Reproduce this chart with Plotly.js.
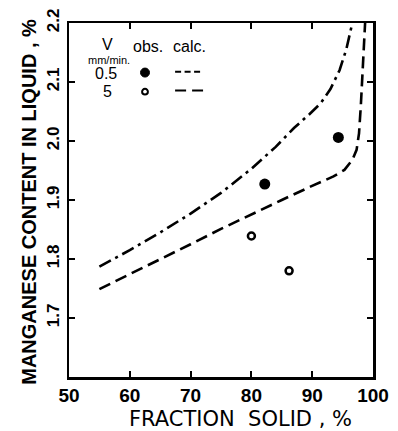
<!DOCTYPE html>
<html><head><meta charset="utf-8">
<script src="https://cdn.plot.ly/plotly-3.0.1.min.js"></script>
<style>body{margin:0;background:#fff}#c{width:398px;height:431px}</style>
</head><body><div id="c"></div>
<script>
// observed points
const obsSlowX = [82.2, 94.3];
const obsSlowY = [1.927, 2.006];
const obsFastX = [80.0, 86.2];
const obsFastY = [1.839, 1.780];
// calculated curves
const calcUpperX = [55.0, 60, 65, 70, 75, 80, 84, 87, 89.5, 91.4, 93, 94.5, 95.6, 96.4, 96.6];
const calcUpperY = [1.787, 1.815, 1.845, 1.877, 1.912, 1.953, 1.99, 2.022, 2.045, 2.064, 2.088, 2.12, 2.155, 2.19, 2.2];
const calcLowerX = [55.0, 60, 65, 70, 75, 80, 85, 89.8, 93.5, 95.3, 96.6, 97.3, 97.7, 98.0, 98.3, 98.6, 98.7];
const calcLowerY = [1.749, 1.774, 1.800, 1.825, 1.851, 1.876, 1.900, 1.923, 1.940, 1.951, 1.968, 1.985, 2.013, 2.06, 2.126, 2.194, 2.2];
const xTicks = [50, 60, 70, 80, 90, 100];
const yTicks = [1.7, 1.8, 1.9, 2.0, 2.1, 2.2];

const F = "Liberation Sans, Arial, sans-serif";
const FD = "DejaVu Sans, sans-serif";
const traces = [
  {x: calcUpperX, y: calcUpperY, mode: 'lines', line: {color: '#000', width: 2.6, dash: '13px,5px,3px,5px'}},
  {x: calcLowerX, y: calcLowerY, mode: 'lines', line: {color: '#000', width: 2.6, dash: '12px,6px'}},
  {x: obsSlowX, y: obsSlowY, mode: 'markers', marker: {color: '#000', size: 11, symbol: 'circle', line: {width: 0}}},
  {x: obsFastX, y: obsFastY, mode: 'markers', marker: {color: '#fff', size: 7, symbol: 'circle', line: {color: '#000', width: 2.5}}}
];
const ax = {
  showgrid: false, zeroline: false, showline: true, linecolor: '#000', linewidth: 2.5,
  mirror: 'ticks', ticks: 'inside', ticklen: 6, tickwidth: 2, tickcolor: '#000'
};
function leg(text, x, y, size) {
  return {text: text, xref: 'paper', yref: 'paper', x: x, y: y, showarrow: false,
    xanchor: 'center', yanchor: 'middle', borderpad: 0, font: {size: size, family: F}};
}
const layout = {
  width: 398, height: 431, showlegend: false,
  paper_bgcolor: '#fff', plot_bgcolor: '#fff',
  margin: {l: 69, r: 25, t: 23, b: 54},
  font: {family: F, color: '#000'},
  xaxis: Object.assign({}, ax, {range: [50, 100], tickvals: xTicks, ticktext: xTicks.map(String),
    tickfont: {size: 19, family: F, weight: 'bold'}}),
  yaxis: Object.assign({}, ax, {range: [1.6, 2.2], tickvals: yTicks, ticktext: yTicks.map(v => v.toFixed(1)),
    tickangle: -90, ticklabelstandoff: 1, tickfont: {size: 17, family: F, weight: 'bold'}}),
  annotations: [
    {text: 'FRACTION  SOLID , %', xref: 'paper', yref: 'paper', x: 0.5625, y: 0, yshift: -42, showarrow: false,
     font: {size: 21, family: FD}, xanchor: 'center', yanchor: 'middle', borderpad: 0},
    {text: 'MANGANESE CONTENT IN LIQUID , %', xref: 'paper', yref: 'paper', x: 0, xshift: -40, y: 0.495, showarrow: false,
     textangle: -90, font: {size: 20, family: F, weight: 'bold'}, xanchor: 'center', yanchor: 'middle', borderpad: 0},
    leg('V', 0.128, 0.938, 16),
    leg('mm/min.', 0.132, 0.896, 11),
    leg('obs.', 0.26, 0.935, 16),
    leg('calc.', 0.398, 0.935, 16),
    leg('0.5', 0.123, 0.856, 16),
    leg('5', 0.127, 0.806, 16)
  ],
  shapes: [
    {type: 'circle', xref: 'paper', yref: 'paper', x0: 0.2352, x1: 0.2648, y0: 0.8473, y1: 0.8727, fillcolor: '#000', line: {color: '#000', width: 1}},
    {type: 'circle', xref: 'paper', yref: 'paper', x0: 0.2405, x1: 0.2595, y0: 0.798, y1: 0.814, fillcolor: '#fff', line: {color: '#000', width: 2}},
    {type: 'line', xref: 'paper', yref: 'paper', x0: 0.349, x1: 0.441, y0: 0.862, y1: 0.862, line: {color: '#000', width: 2, dash: '6px,3.5px'}},
    {type: 'line', xref: 'paper', yref: 'paper', x0: 0.349, x1: 0.441, y0: 0.809, y1: 0.809, line: {color: '#000', width: 2, dash: '11px,6px'}}
  ]
};
Plotly.newPlot('c', traces, layout, {displayModeBar: false, staticPlot: true});
</script></body></html>
